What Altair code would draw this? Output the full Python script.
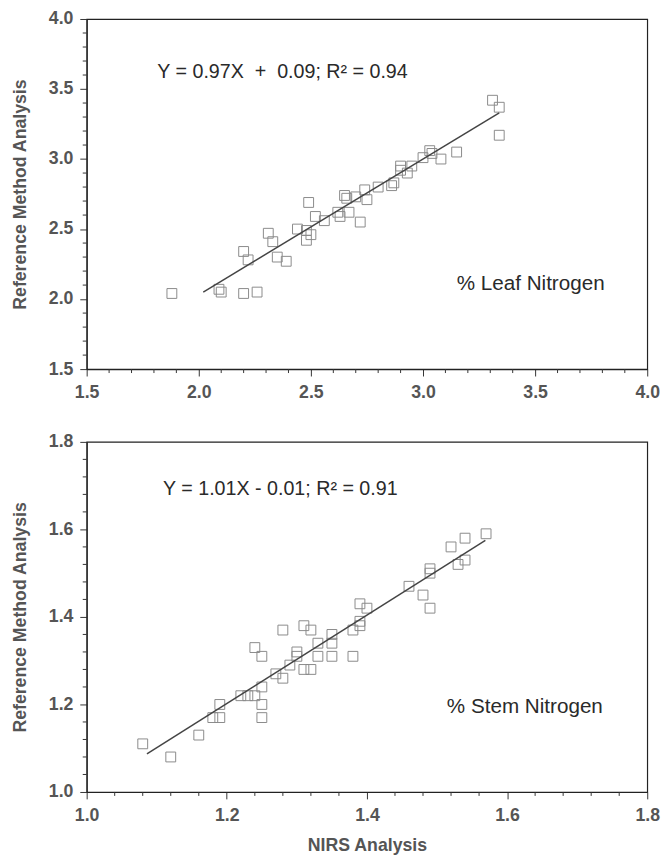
import altair as alt
import pandas as pd

# ---------------- data ----------------
leaf_x = [1.88, 2.10, 2.09, 2.20, 2.26, 2.20, 2.22, 2.31, 2.33, 2.35, 2.39, 2.44,
          2.48, 2.48, 2.50, 2.49, 2.52, 2.56, 2.62, 2.63, 2.67, 2.72, 2.65, 2.66,
          2.70, 2.74, 2.75, 2.80, 2.86, 2.87, 2.90, 2.90, 2.93, 2.95, 3.00, 3.03,
          3.04, 3.08, 3.15, 3.31, 3.34, 3.34]
leaf_y = [2.04, 2.05, 2.07, 2.04, 2.05, 2.34, 2.28, 2.47, 2.41, 2.30, 2.27, 2.50,
          2.49, 2.42, 2.46, 2.69, 2.59, 2.56, 2.62, 2.59, 2.62, 2.55, 2.74, 2.72,
          2.73, 2.78, 2.71, 2.80, 2.81, 2.83, 2.95, 2.92, 2.90, 2.95, 3.01, 3.06,
          3.04, 3.00, 3.05, 3.42, 3.37, 3.17]

stem_x = [1.08, 1.12, 1.16, 1.18, 1.19, 1.19, 1.22, 1.23, 1.24, 1.25, 1.25, 1.25,
          1.24, 1.25, 1.27, 1.28, 1.28, 1.29, 1.30, 1.30, 1.31, 1.32, 1.31, 1.32,
          1.33, 1.33, 1.35, 1.35, 1.35, 1.38, 1.38, 1.39, 1.39, 1.39, 1.40, 1.46,
          1.48, 1.49, 1.49, 1.49, 1.52, 1.53, 1.54, 1.54, 1.57]
stem_y = [1.11, 1.08, 1.13, 1.17, 1.17, 1.20, 1.22, 1.22, 1.22, 1.24, 1.20, 1.17,
          1.33, 1.31, 1.27, 1.26, 1.37, 1.29, 1.31, 1.32, 1.38, 1.37, 1.28, 1.28,
          1.34, 1.31, 1.36, 1.34, 1.31, 1.31, 1.37, 1.39, 1.38, 1.43, 1.42, 1.47,
          1.45, 1.51, 1.50, 1.42, 1.56, 1.52, 1.53, 1.58, 1.59]

leaf_line_x = [2.02, 3.34]
leaf_line_y = [2.05, 3.33]
stem_line_x = [1.086, 1.569]
stem_line_y = [1.087, 1.575]

leaf_major = [1.5, 2.0, 2.5, 3.0, 3.5, 4.0]
leaf_minor = [1.6, 1.7, 1.8, 1.9, 2.1, 2.2, 2.3, 2.4, 2.6, 2.7, 2.8, 2.9,
              3.1, 3.2, 3.3, 3.4, 3.6, 3.7, 3.8, 3.9]
stem_major = [1.0, 1.2, 1.4, 1.6, 1.8]
stem_minor = [1.04, 1.08, 1.12, 1.16, 1.24, 1.28, 1.32, 1.36, 1.44, 1.48,
              1.52, 1.56, 1.64, 1.68, 1.72, 1.76]
leaf_domain = [1.5, 4.0]
stem_domain = [1.0, 1.8]

NB = "\u00a0"
leaf_texts = [f"Y = 0.97X{NB}{NB}+{NB}{NB}0.09; R\u00b2 = 0.94", "% Leaf Nitrogen"]
leaf_text_x = [1.815, 3.15]
leaf_text_y = [3.62, 2.11]
stem_texts = ["Y = 1.01X - 0.01; R\u00b2 = 0.91", "% Stem Nitrogen"]
stem_text_x = [1.109, 1.514]
stem_text_y = [1.693, 1.195]
text_sizes = [20, 21]

FONT = "Liberation Sans"
W = 570
H = 356
TICK = "#333"


def panel(xs, ys, lx, ly, texts, tx, ty, domain, major, minor, xtitle):
    pts = pd.DataFrame({"x": xs, "y": ys})
    ln = pd.DataFrame({"x": lx, "y": ly})
    tdf = pd.DataFrame({"x": tx, "y": ty, "t": texts, "s": text_sizes})
    mdf = pd.DataFrame({"x": minor, "y": minor})
    sc = alt.Scale(domain=domain, nice=False, zero=False)
    xax = alt.Axis(values=major, format=".1f", tickSize=7, labelPadding=8,
                   labelFlush=False, labelOverlap=False, grid=False,
                   title=xtitle if xtitle else None, titlePadding=12)
    yax = alt.Axis(values=major, format=".1f", tickSize=7, labelPadding=7,
                   labelFlush=False, labelOverlap=False, grid=False,
                   title="Reference Method Analysis", titlePadding=19)
    X = alt.X("x:Q", scale=sc, axis=xax)
    Y = alt.Y("y:Q", scale=sc, axis=yax)
    p = alt.Chart(pts).mark_point(shape="square", filled=False, size=100,
                                  color="#8a8a8a", strokeWidth=1, opacity=1).encode(
        x=X, y=Y)
    l = alt.Chart(ln).mark_line(color="#444", strokeWidth=1.5).encode(x=X, y=Y)
    t = alt.Chart(tdf).mark_text(align="left", baseline="middle",
                                 font=FONT, color="#2a2a2a").encode(
        x=X, y=Y, text="t:N", size=alt.Size("s:Q", scale=None, legend=None))
    mx = alt.Chart(mdf).mark_rule(color=TICK, strokeWidth=1).encode(
        x=X, y=alt.value(H), y2=alt.value(H + 4))
    my = alt.Chart(mdf).mark_rule(color=TICK, strokeWidth=1).encode(
        y=Y, x=alt.value(0), x2=alt.value(-4))
    return alt.layer(p, l, t, mx, my).properties(width=W, height=H)


top = panel(leaf_x, leaf_y, leaf_line_x, leaf_line_y, leaf_texts, leaf_text_x,
            leaf_text_y, leaf_domain, leaf_major, leaf_minor, None)
bottom = panel(stem_x, stem_y, stem_line_x, stem_line_y, stem_texts, stem_text_x,
               stem_text_y, stem_domain, stem_major, stem_minor, "NIRS Analysis")

chart = alt.vconcat(top, bottom, spacing=30).properties(
    padding={"left": 3, "top": -6, "right": 0, "bottom": 0}
).configure_view(
    stroke="#222", strokeWidth=1.2, clip=False
).configure_axis(
    labelFont=FONT, labelFontSize=18, labelFontWeight="bold", labelColor="#555",
    titleFont=FONT, titleFontSize=18, titleFontWeight="bold", titleColor="#555",
    domainColor="#222", domainWidth=1.2, tickColor=TICK, tickWidth=1,
)

chart.save("out.html", embed_options={"renderer": "svg", "actions": False})
